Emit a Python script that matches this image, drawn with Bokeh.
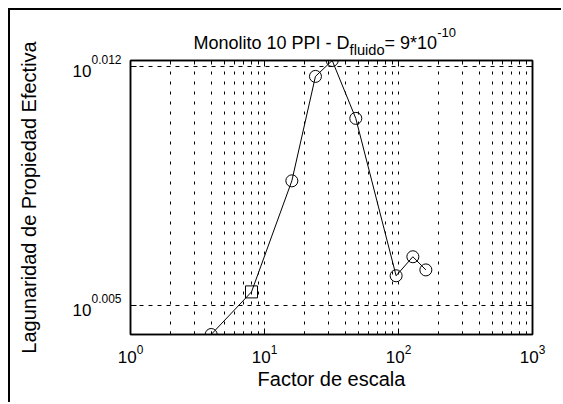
import math

from bokeh.embed import file_html
from bokeh.models import ColumnDataSource, FixedTicker, Label, LogAxis, Range1d
from bokeh.plotting import figure
from bokeh.resources import INLINE

# Lacunarity of the effective property against the scale factor
escala = [4, 8, 16, 24, 32, 48, 96, 128, 160]
lagunaridad = [1.0096, 1.0125, 1.0201, 1.0273, 1.0284, 1.0244, 1.0136, 1.0149, 1.0140]

x_ticks = [1, 10, 100, 1000]
y_tick_exp = ["0.005", "0.012"]
y_ticks = [10 ** float(e) for e in y_tick_exp]

titulo = ["Monolito 10 PPI - D", "fluido", "= 9*10", "-10"]
x_label = "Factor de escala"
y_label = "Lagunaridad de Propiedad Efectiva"

FONT = "Liberation Sans"
NBSP = "\u00a0"

# Arial / Liberation Sans advance widths (1/1000 em) used to lay out the
# pieces of texts that mix normal, subscript and superscript runs.
ADV = {" ": 278, NBSP: 278, "-": 333, "*": 389, "=": 584, ".": 278, "M": 833,
       "P": 667, "I": 278, "D": 722, "o": 556, "n": 556, "l": 222, "i": 222,
       "t": 278, "f": 278, "u": 556, "d": 556}


def text_width(s, size):
    return sum(ADV.get(c, 556) for c in s) * size / 1000.0


# log-decade minor tick positions (2..9 in every decade)
x_minor = [m * 10 ** k for k in range(3) for m in range(2, 10)]

p = figure(width=553, height=394, x_axis_type="log", y_axis_type="log",
           x_range=Range1d(x_ticks[0], x_ticks[-1]),
           y_range=Range1d(min(lagunaridad), max(lagunaridad)),
           output_backend="svg", toolbar_location=None,
           min_border_left=120, min_border_right=31,
           min_border_top=50, min_border_bottom=70)
p.background_fill_color = "white"
p.border_fill_color = "white"
p.outline_line_color = "black"
p.outline_line_width = 1.5
p.styles = {"margin-left": "8px", "margin-top": "8px",
            "border-left": "2px solid #000", "border-top": "2px solid #000"}

x_ticker = FixedTicker(ticks=x_ticks, minor_ticks=x_minor)
y_ticker = FixedTicker(ticks=y_ticks)


def style_axis(ax, show_labels=False):
    if not show_labels:
        ax.major_label_text_font_size = "1px"
        ax.major_label_text_alpha = 0
        ax.major_label_standoff = 0
    ax.major_tick_in = 6
    ax.major_tick_out = 0
    ax.minor_tick_in = 3
    ax.minor_tick_out = 0
    ax.axis_line_color = "black"
    ax.axis_line_width = 1.5
    ax.major_tick_line_color = "black"
    ax.minor_tick_line_color = "black"


p.xaxis.ticker = x_ticker
p.yaxis.ticker = y_ticker
xax = p.xaxis[0]
style_axis(xax, show_labels=True)
xax.major_label_text_font = FONT
xax.major_label_text_font_size = "17px"
xax.major_label_text_color = "black"
xax.major_label_standoff = 10
xax.axis_label = x_label
xax.axis_label_text_font = FONT
xax.axis_label_text_font_size = "20px"
xax.axis_label_text_font_style = "normal"
xax.axis_label_text_color = "black"
xax.axis_label_standoff = 2
style_axis(p.yaxis[0])

top_axis = LogAxis(ticker=FixedTicker(ticks=x_ticks, minor_ticks=x_minor))
style_axis(top_axis)
p.add_layout(top_axis, "above")
right_axis = LogAxis(ticker=FixedTicker(ticks=y_ticks))
style_axis(right_axis)
p.add_layout(right_axis, "right")

# dotted grid
p.xgrid.ticker = x_ticker
p.xgrid.grid_line_color = "black"
p.xgrid.grid_line_dash = "3 7"
p.xgrid.minor_grid_line_color = "black"
p.xgrid.minor_grid_line_dash = "3 7"
p.ygrid.ticker = y_ticker
p.ygrid.grid_line_color = "black"
p.ygrid.grid_line_dash = "4 5"

# data
src = ColumnDataSource(dict(
    x=escala, y=lagunaridad,
    m=["square" if e == 8 else "circle" for e in escala],
))
p.line("x", "y", source=src, line_color="black", line_width=1)
p.scatter("x", "y", marker="m", source=src, size=12, fill_color=None,
          line_color="black", line_width=1)

x0, x1 = p.x_range.start, p.x_range.end
y0, y1 = p.y_range.start, p.y_range.end
y_mid = math.sqrt(y0 * y1)


def add_label(side, x, y, text, size, dx=0, dy=0, align="left", baseline="alphabetic", angle=0):
    # texts around the frame live in the side panels so they are not clipped
    p.add_layout(Label(x=x, y=y, text=text, x_offset=dx, y_offset=dy,
                       text_font=FONT, text_font_size=f"{size:.2f}px",
                       text_align=align, text_baseline=baseline,
                       text_color="black", angle=angle), side)


# y tick labels: 10 with a raised exponent
T_MAIN, T_EXP = 17, 12
for v, e in zip(y_ticks, y_tick_exp):
    we = text_width(e, T_EXP)
    add_label("left", x0, v, e, T_EXP, dx=-9, dy=7, align="right")
    add_label("left", x0, v, "10", T_MAIN, dx=-9 - we, dy=-5, align="right")

# vertical axis title
add_label("right", x0, y_mid, y_label, 20, dx=-102, align="center",
          baseline="middle", angle=math.pi / 2)

# title: normal run, subscript run, normal run, superscript run
T_BIG = 18
gap = 7
T_SUB = gap * text_width(NBSP, T_BIG) / text_width(titulo[1], 1)
T_SUP = 13
start = 63
main_text = titulo[0] + NBSP * gap + titulo[2]
add_label("above", x0, y1, main_text, T_BIG, dx=start, dy=18)
sub_x = start + text_width(titulo[0], T_BIG)
add_label("above", x0, y1, titulo[1], T_SUB, dx=sub_x, dy=11)
sup_x = sub_x + text_width(titulo[1], T_SUB) + text_width(titulo[2], T_BIG)
add_label("left", x0, y1, titulo[3], T_SUP, dx=sup_x, dy=28)

open("out.html", "w").write(file_html(p, INLINE))
